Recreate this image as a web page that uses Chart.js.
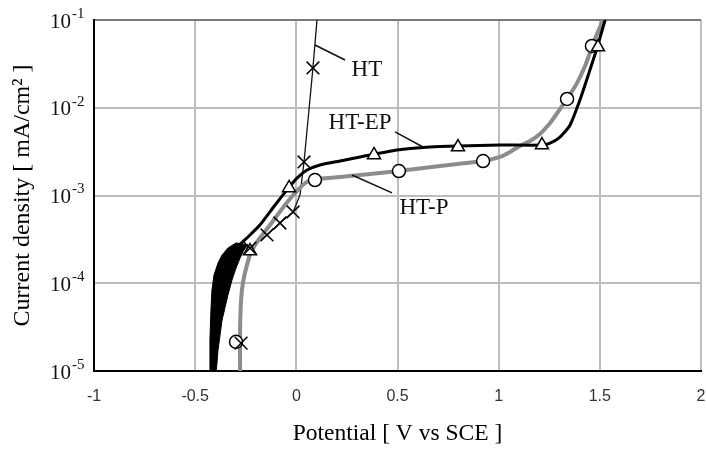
<!DOCTYPE html>
<html>
<head>
<meta charset="utf-8">
<script src="https://cdn.jsdelivr.net/npm/chart.js@4.4.1/dist/chart.umd.min.js"></script>
<style>
html,body{margin:0;padding:0;background:#fff;}
canvas{display:block;}
</style>
</head>
<body>
<canvas id="c" width="706" height="449"></canvas>
<script>
// ---- axis ticks ----
const xTickValues = [-1, -0.5, 0, 0.5, 1, 1.5, 2];
const xTickLabels = ['-1', '-0.5', '0', '0.5', '1', '1.5', '2'];
const yTickExponents = [-1, -2, -3, -4, -5];

// ---- HT-P (grey line, circles) ----
const htpPotential = [-0.278, -0.278, -0.273, -0.264, -0.244, -0.219, -0.180, -0.130, -0.056, 0.008, 0.053, 0.092, 0.216, 0.364, 0.507, 0.710, 0.923, 1.007, 1.056, 1.105, 1.155, 1.204, 1.254, 1.293, 1.338, 1.387, 1.427, 1.461, 1.486, 1.516, 1.531];
const htpCurrent = [9e-6, 2.93e-5, 6.44e-5, 1.01e-4, 1.62e-4, 2.39e-4, 3.28e-4, 4.61e-4, 7.80e-4, 1.16e-3, 1.43e-3, 1.54e-3, 1.62e-3, 1.76e-3, 1.90e-3, 2.17e-3, 2.47e-3, 2.75e-3, 3.13e-3, 3.67e-3, 4.18e-3, 5.02e-3, 6.70e-3, 8.95e-3, 1.26e-2, 1.91e-2, 2.99e-2, 4.92e-2, 6.92e-2, 0.1, 0.12];
const htpMarkPotential = [-0.298, 0.092, 0.507, 0.923, 1.338, 1.461];
const htpMarkCurrent = [2.15e-5, 1.5e-3, 1.90e-3, 2.47e-3, 1.26e-2, 5.06e-2];

// ---- HT-EP (black thick line, triangles) ----
const htepPotential = [-0.328, -0.298, -0.229, -0.180, -0.105, -0.046, 0.003, 0.053, 0.117, 0.216, 0.315, 0.498, 0.661, 0.799, 1.007, 1.214, 1.254, 1.303, 1.353, 1.402, 1.451, 1.486, 1.526, 1.540];
const htepCurrent = [2.10e-4, 2.52e-4, 3.55e-4, 4.61e-4, 7.80e-4, 1.16e-3, 1.58e-3, 1.95e-3, 2.23e-3, 2.47e-3, 2.75e-3, 3.30e-3, 3.57e-3, 3.67e-3, 3.76e-3, 3.76e-3, 3.96e-3, 4.64e-3, 6.36e-3, 1.23e-2, 2.69e-2, 4.80e-2, 0.1, 0.13];
// noisy cathodic band of HT-EP: left and right envelopes
const htepNoiseLeftPotential = [-0.427, -0.427, -0.422, -0.417, -0.407, -0.387, -0.367, -0.338, -0.298];
const htepNoiseLeftCurrent = [9e-6, 2.26e-5, 4.95e-5, 8.38e-5, 1.24e-4, 1.70e-4, 2.10e-4, 2.52e-4, 2.88e-4];
const htepNoiseRightPotential = [-0.239, -0.259, -0.278, -0.298, -0.318, -0.338, -0.367, -0.387, -0.397];
const htepNoiseRightCurrent = [2.73e-4, 2.39e-4, 1.94e-4, 1.49e-4, 1.09e-4, 7.34e-5, 3.81e-5, 1.73e-5, 9e-6];
const htepMarkPotential = [-0.229, -0.036, 0.384, 0.799, 1.214, 1.491];
const htepMarkCurrent = [2.33e-4, 1.22e-3, 2.90e-3, 3.57e-3, 3.76e-3, 4.92e-2];

// ---- HT (thin black line, crosses) ----
const htPotential = [-0.278, -0.278, -0.273, -0.259, -0.244, -0.229, -0.145, -0.081, -0.016, 0.018, 0.038, 0.082, 0.102, 0.107];
const htCurrent = [9e-6, 2.93e-5, 6.44e-5, 1.09e-4, 1.70e-4, 2.52e-4, 3.55e-4, 4.86e-4, 6.49e-4, 1.01e-3, 2.41e-3, 2.84e-2, 0.1, 0.12];
const htMarkPotential = [-0.273, -0.229, -0.145, -0.081, -0.016, 0.038, 0.082];
const htMarkCurrent = [2.08e-5, 2.52e-4, 3.55e-4, 4.86e-4, 6.49e-4, 2.41e-3, 2.84e-2];

// ---- curve labels and their leader lines ----
const labelNames = ['HT', 'HT-EP', 'HT-P'];
const labelPotential = [0.349, 0.315, 0.631];
const labelCurrent = [2.69e-2, 6.7e-3, 7.2e-4];
const leaderHTPotential = [0.092, 0.241];
const leaderHTCurrent = [5.19e-2, 3.50e-2];
const leaderEPPotential = [0.488, 0.626];
const leaderEPCurrent = [5.30e-3, 3.57e-3];
const leaderPPotential = [0.275, 0.473];
const leaderPCurrent = [1.71e-3, 1.07e-3];

const pts = (xs, ys) => xs.map((x, i) => ({x: x, y: ys[i]}));
const yTickValues = yTickExponents.map(e => Math.pow(10, e));

const lineDs = (data, color, width, order, extra) => Object.assign({
  data: data, showLine: true, borderColor: color, borderWidth: width,
  pointRadius: 0, fill: false, tension: 0.2, order: order
}, extra || {});
const markDs = (data, style, radius, order) => ({
  data: data, showLine: false, pointStyle: style, pointRadius: radius,
  pointBorderColor: '#000', pointBackgroundColor: '#fff', pointBorderWidth: 1.5, order: order
});

const bandData = pts(htepNoiseLeftPotential, htepNoiseLeftCurrent)
  .concat(pts(htepNoiseRightPotential, htepNoiseRightCurrent));

const SERIF = '"Liberation Serif", "Times New Roman", serif';

const customText = {
  id: 'customText',
  afterDraw(chart) {
    const ctx = chart.ctx;
    const xs = chart.scales.x, ys = chart.scales.y;
    ctx.save();
    // x tick labels
    ctx.fillStyle = '#333';
    ctx.font = '16px "Liberation Sans", Arial, sans-serif';
    ctx.textAlign = 'center';
    ctx.textBaseline = 'middle';
    xTickValues.forEach((v, i) => {
      ctx.fillText(xTickLabels[i], xs.getPixelForValue(v), 397);
    });
    ctx.fillStyle = '#111';
    // y tick labels with superscript exponents
    yTickExponents.forEach(e => {
      const py = ys.getPixelForValue(Math.pow(10, e));
      ctx.font = '21px ' + SERIF;
      ctx.textAlign = 'right';
      ctx.textBaseline = 'middle';
      ctx.fillText('10', 71, py + 2);
      ctx.font = '15px ' + SERIF;
      ctx.textAlign = 'left';
      ctx.fillText(String(e), 72, py - 6);
    });
    // curve labels
    ctx.font = '23px ' + SERIF;
    ctx.textAlign = 'center';
    ctx.textBaseline = 'middle';
    labelNames.forEach((n, i) => {
      ctx.fillText(n, xs.getPixelForValue(labelPotential[i]), ys.getPixelForValue(labelCurrent[i]));
    });
    ctx.restore();
  }
};

new Chart(document.getElementById('c'), {
  type: 'scatter',
  data: {
    datasets: [
      markDs(pts(htMarkPotential, htMarkCurrent), 'crossRot', 9, 1),
      markDs(pts(htepMarkPotential, htepMarkCurrent), 'triangle', 7.5, 1),
      markDs(pts(htpMarkPotential, htpMarkCurrent), 'circle', 6.5, 1),
      lineDs(pts(leaderHTPotential, leaderHTCurrent), '#111', 1.5, 2, {tension: 0}),
      lineDs(pts(leaderEPPotential, leaderEPCurrent), '#111', 1.5, 2, {tension: 0}),
      lineDs(pts(leaderPPotential, leaderPCurrent), '#111', 1.5, 2, {tension: 0}),
      lineDs(pts(htepPotential, htepCurrent), '#000', 3, 3),
      lineDs(bandData, '#000', 1, 4, {fill: 'shape', backgroundColor: '#000', tension: 0}),
      lineDs(pts(htpPotential, htpCurrent), '#8c8c8c', 4, 5),
      lineDs(pts(htPotential, htCurrent), '#111', 1.3, 6, {tension: 0})
    ]
  },
  options: {
    responsive: false,
    devicePixelRatio: 1,
    animation: false,
    layout: {autoPadding: false, padding: {top: 20, right: 5, left: 0, bottom: 0}},
    plugins: {legend: {display: false}, tooltip: {enabled: false}},
    scales: {
      x: {
        type: 'linear', min: -1, max: 2,
        afterBuildTicks: s => { s.ticks = xTickValues.map(v => ({value: v})); },
        afterFit: s => { s.height = 78; },
        ticks: {display: false},
        grid: {color: '#bdbdbd', lineWidth: 2, drawTicks: false},
        border: {display: true, color: '#000', width: 2},
        title: {
          display: true, text: 'Potential [ V vs SCE ]', color: '#000',
          font: {family: SERIF, size: 23.5, lineHeight: 1.2}, padding: {top: 0, bottom: 1}
        }
      },
      y: {
        type: 'logarithmic', min: 1e-5, max: 1e-1,
        afterBuildTicks: s => { s.ticks = yTickValues.map(v => ({value: v})); },
        afterFit: s => { s.width = 94; },
        ticks: {display: false},
        grid: {
          color: c => (c.tick && c.tick.value === 0.1) ? '#7a7a7a' : '#bdbdbd',
          lineWidth: 2, drawTicks: false
        },
        border: {display: true, color: '#000', width: 2},
        title: {
          display: true, text: 'Current density [ mA/cm² ]', color: '#000',
          font: {family: SERIF, size: 24, lineHeight: 1.2}, padding: {top: 8, bottom: 0}
        }
      }
    }
  },
  plugins: [customText]
});
</script>
</body>
</html>
